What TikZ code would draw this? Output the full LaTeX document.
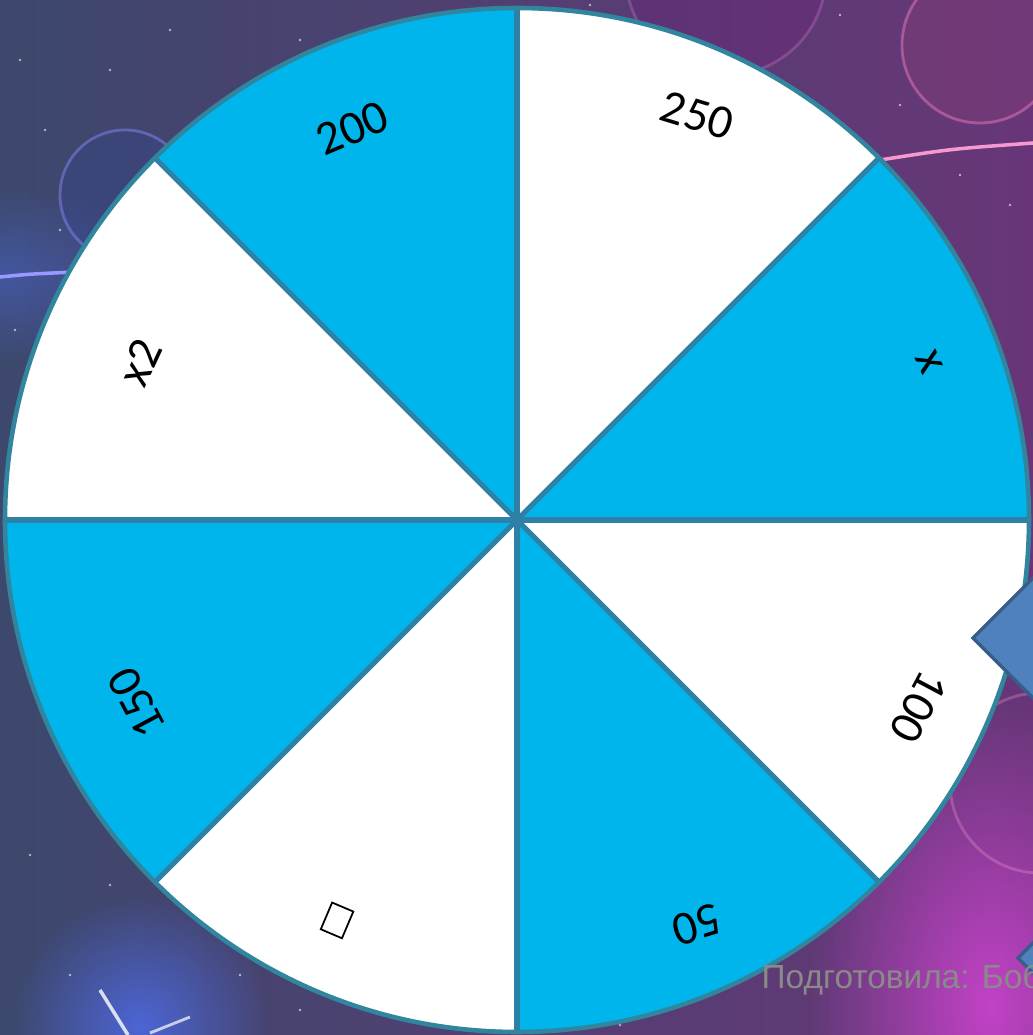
\documentclass[tikz,border=0pt]{standalone}
\usepackage{fontspec}
\setmainfont{Carlito}
\newfontfamily\creditfont{Liberation Sans}
\usetikzlibrary{fadings}
\tikzfading[name=glowfade,inner color=transparent!0,outer color=transparent!100]

\begin{document}
\begin{tikzpicture}[x=0.01cm,y=0.01cm]
\definecolor{bgleft}{RGB}{60,72,108}
\definecolor{bgright}{RGB}{104,54,120}
\definecolor{glowpink}{RGB}{225,70,225}
\definecolor{glowblue}{RGB}{80,115,255}
\definecolor{seg}{RGB}{0,181,235}
\definecolor{rim}{RGB}{49,133,158}
\definecolor{spoke}{RGB}{47,128,166}
\definecolor{ptrfill}{RGB}{79,129,189}
\definecolor{ptrline}{RGB}{56,93,138}
\definecolor{credit}{RGB}{138,138,138}
\tikzset{
  lab/.style={font=\fontsize{13.6}{16}\selectfont,inner sep=0pt},
  spokeline/.style={spoke,line width=1.5pt},
  rimline/.style={rim,line width=1.3pt},
  pointer/.style={fill=ptrfill,draw=ptrline,line width=1pt,line join=miter},
  bubble/.style={line width=0.8pt,opacity=.45},
}
\useasboundingbox (0,0) rectangle (1033,1035);
\clip (0,0) rectangle (1033,1035);

% space background
\shade[left color=bgleft,right color=bgright] (0,0) rectangle (1033,1035);
\fill[glowpink,path fading=glowfade,opacity=.75] (990,30) ellipse[x radius=180,y radius=300];
\fill[glowblue,path fading=glowfade,opacity=.7] (140,10) circle[radius=130];
\fill[glowblue,path fading=glowfade,opacity=.35] (0,760) ellipse[x radius=160,y radius=90];
\draw[bubble,draw=blue!45!white,fill=glowblue!60!black,fill opacity=.25] (125,840) circle[radius=65];
\draw[bubble,draw=violet!60!white,fill=violet,fill opacity=.15] (726,1060) circle[radius=100];
\draw[bubble,draw=magenta!50!white,fill=magenta!60!black,fill opacity=.2] (980,990) circle[radius=78];
\draw[bubble,draw=magenta!40!white,opacity=.3] (1040,252) circle[radius=90];
\draw[white!60!blue,line width=1pt] (0,758) .. controls (30,761) .. (75,763);
\draw[magenta!40!white,line width=1pt] (880,875) .. controls (950,886) .. (1033,892);
\draw[white,line width=1pt,opacity=.8] (100,45) -- (128,0);
\draw[white,line width=.8pt,opacity=.7] (150,2) -- (190,18);
\foreach \sx/\sy in {20/975,45/905,110/965,170/1005,230/940,300/995,60/805,15/705,38/640,90/580,
  20/420,60/300,30/180,110/150,70/60,240/60,300/25,560/20,620/10,680/30,
  590/1030,640/1005,840/1020,900/930,960/860,1010/830,1000/600,990/520,960/330,880/210}
  \fill[white,opacity=.6] (\sx,\sy) circle[radius=1.3];

% the wheel
\coordinate (C) at (517,515);
\foreach \a/\col in {0/seg,45/white,90/seg,135/white,180/seg,225/white,270/seg,315/white}
  \fill[\col] (C) -- ([shift={(\a:512)}]C) arc[start angle=\a,end angle=\a+45,radius=512] -- cycle;
\foreach \a in {0,45,...,315}
  \draw[spokeline] (C) -- ([shift={(\a:512)}]C);
\draw[rimline] (C) circle[radius=512];

% sector labels, tops facing outward
\foreach \n/\ang/\rad/\rot/\txt in {l250/66/443/-17/250,l200/112.8/425/23/200,lxtwo/157.3/409/65/x2,
  l150/205.7/422/118/150,l50/294/443/-163/50,l100/335/443/-118/100,lx/21/442/-65/x}
  \node[lab,rotate=\rot] (\n) at ([shift={(\ang:\rad)}]C) {\txt};
\node[draw,line width=.5pt,minimum width=0.23cm,minimum height=0.29cm,inner sep=0pt,rotate=-23]
  (lbox) at ([shift={(245.8:439)}]C) {};

% pointers
\draw[pointer] (973,397) -- (1060,484) -- (1147,397) -- (1060,310) -- cycle;
\draw[pointer] (1018,77) -- (1100,159) -- (1182,77) -- (1100,-5) -- cycle;

\node[credit,font=\creditfont\fontsize{9.5}{11}\selectfont,anchor=base west,inner sep=0pt]
  (credit) at (761,47) {Подготовила: Бобк};
\end{tikzpicture}
\end{document}
